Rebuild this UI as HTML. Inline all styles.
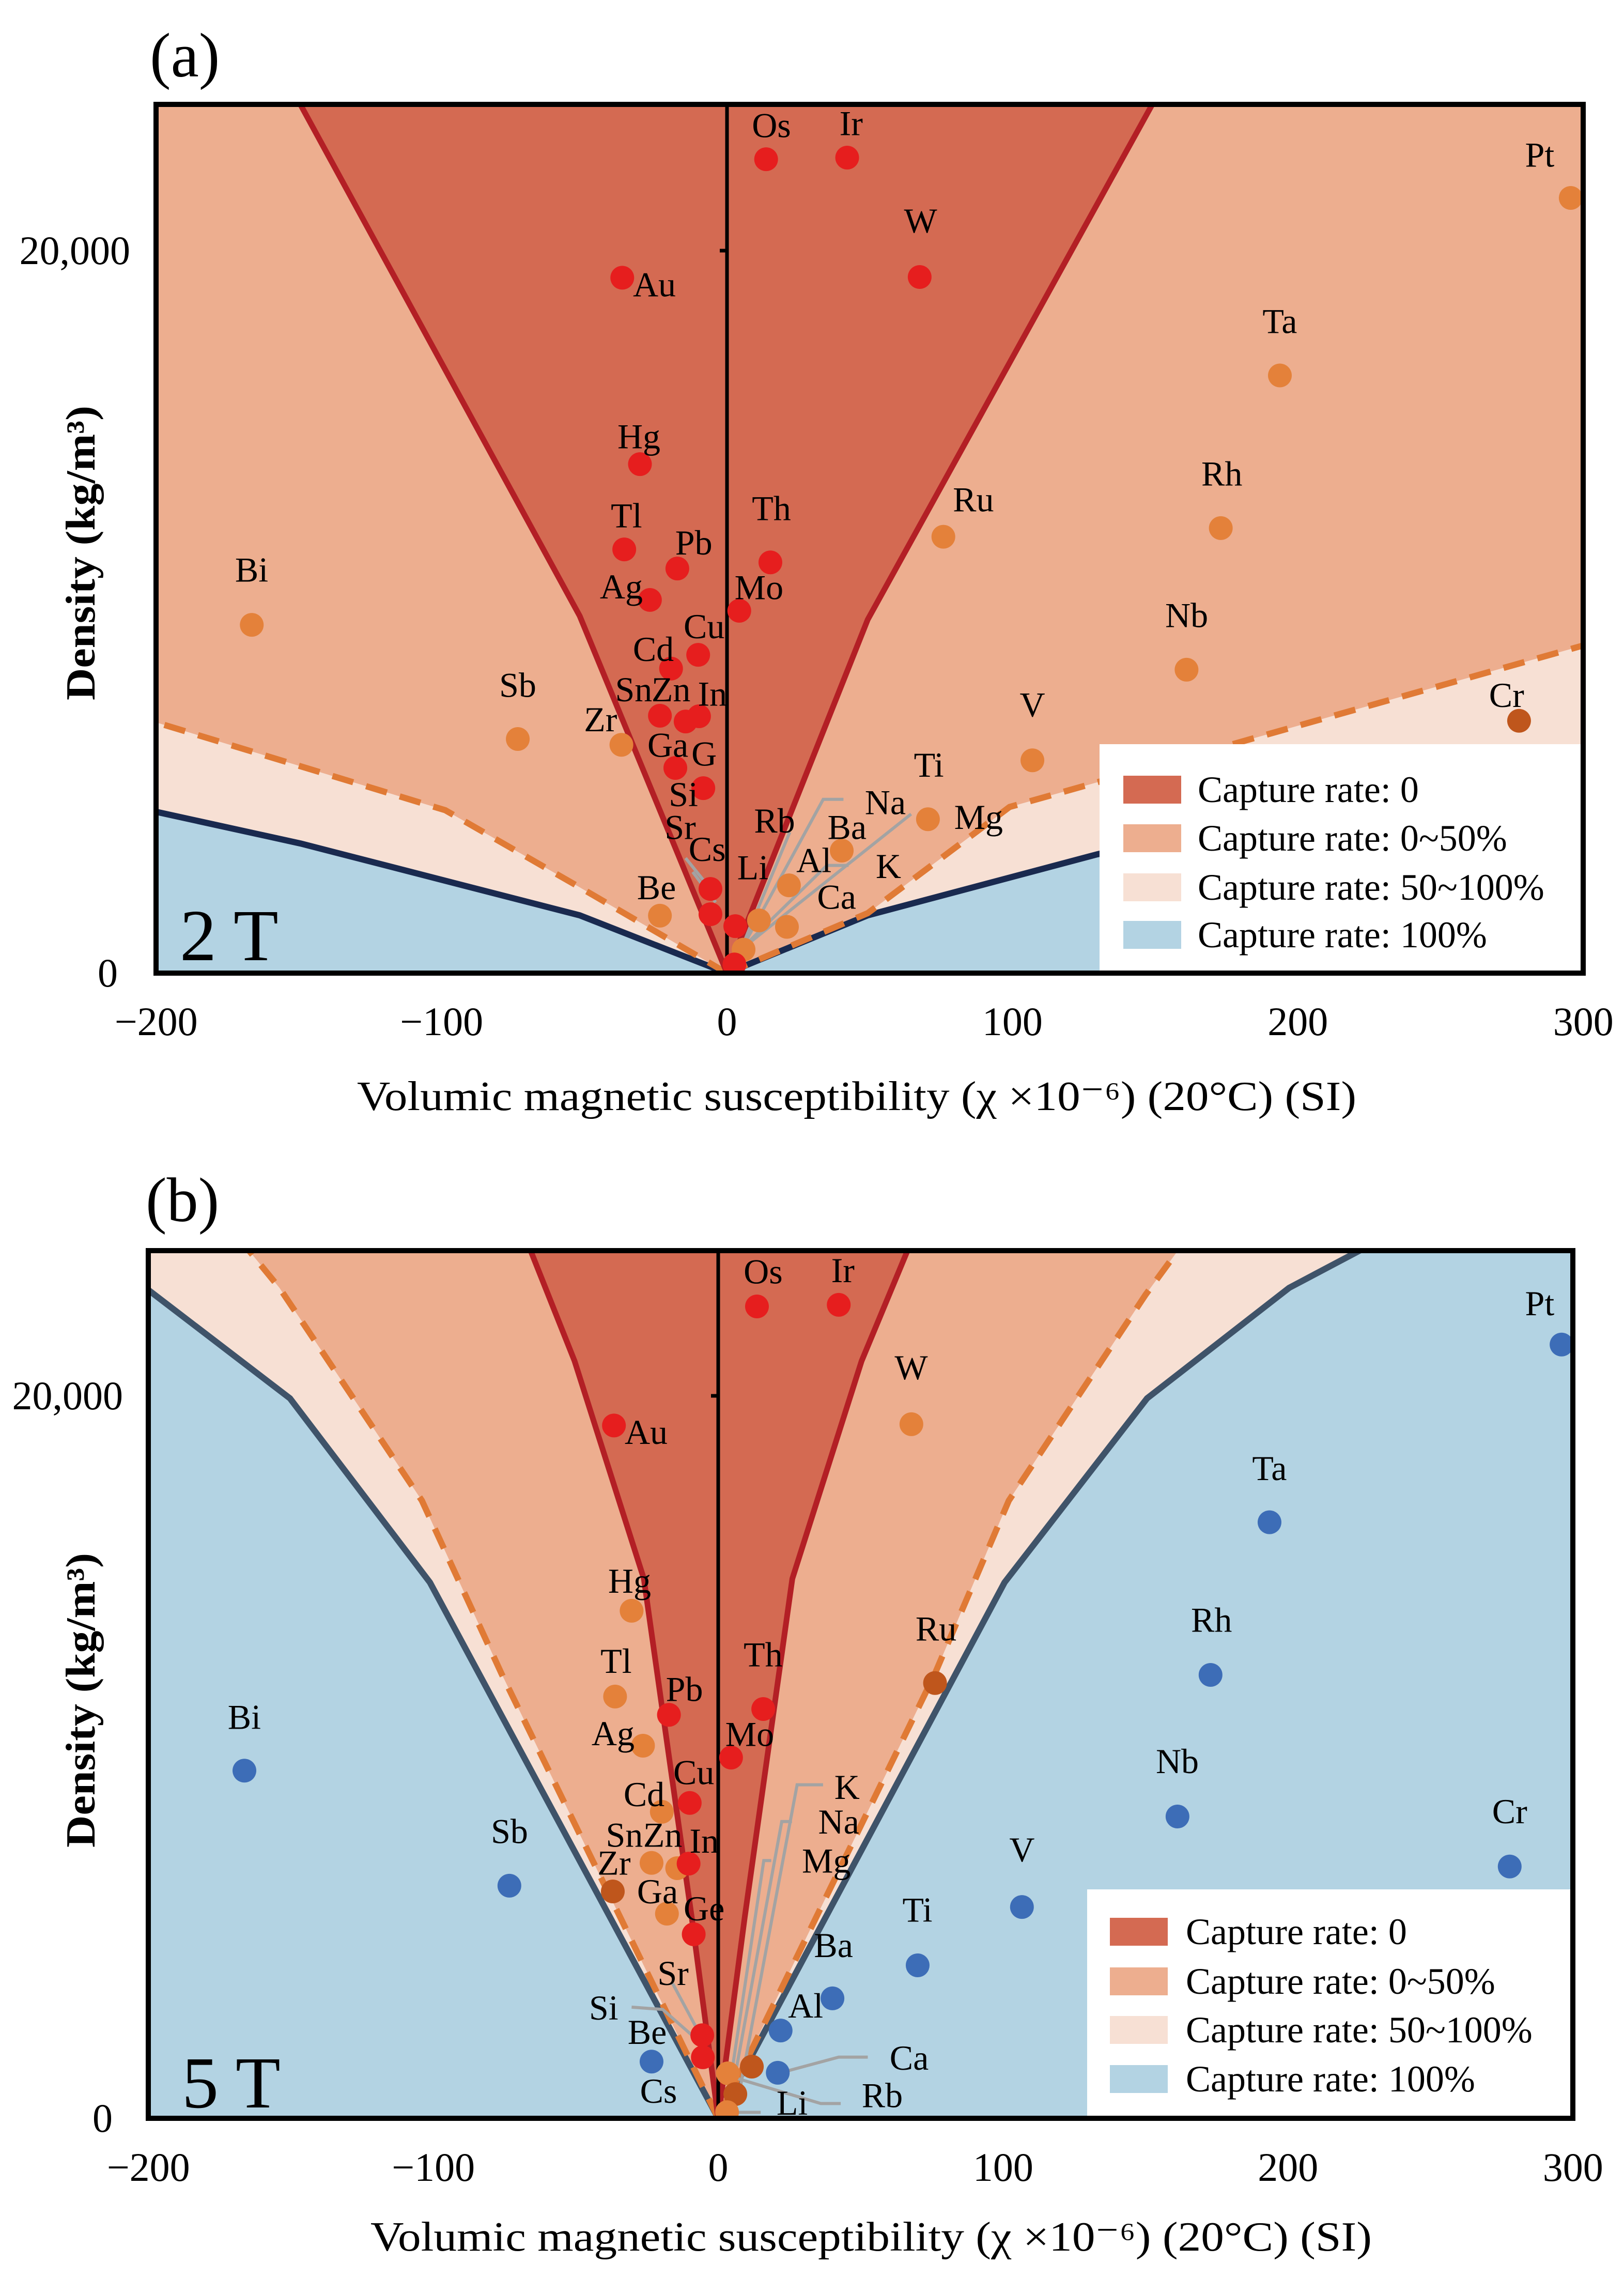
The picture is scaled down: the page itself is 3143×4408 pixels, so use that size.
<!DOCTYPE html>
<html><head><meta charset="utf-8"><style>
html,body{margin:0;padding:0;background:#fff;}
svg{display:block;}
text{font-family:"Liberation Serif","Times New Roman",Times,"DejaVu Serif",serif;fill:#000;}
</style></head><body>
<svg id="fig" width="3143" height="4408" viewBox="0 0 3143 4408" xmlns="http://www.w3.org/2000/svg"></svg>
<script>
// ---------- shared axis data ----------
const xTicks = [-200, -100, 0, 100, 200, 300];
const xTickLabels = ["\u2212200", "\u2212100", "0", "100", "200", "300"];
const yTicks = [0, 20000];
const yTickLabels = ["0", "20,000"];
const legendLabels = ["Capture rate: 0", "Capture rate: 0~50%", "Capture rate: 50~100%", "Capture rate: 100%"];

// ---------- panel (a) 2 T data ----------
const namesA = ["Os","Ir","Pt","W","Au","Ta","Hg","Rh","Ru","Tl","Th","Pb","Ag","Mo","Bi","Cu","Cd","Nb","Sn","Zn","In","Cr","Sb","Zr","V","Ga","Ge","Ti","Ba","Al","Ca","Be","Sr","Si","Na","Rb","Li","K"];
const chiA = [13.7,42.1,295.6,67.5,-36.7,193.7,-30.5,173,75.8,-36,15.2,-17.4,-27,4.3,-166.5,-10.1,-19.6,161,-23.5,-14.5,-9.8,277.5,-73.3,-37,107,-18.1,-8.3,70.4,40.2,21.7,21,-23.5,-5.8,-5.8,11.2,2.9,5.8,2.6];
const rhoA = [22530,22575,21460,19270,19250,16545,14090,12320,12080,11730,11370,11200,10330,10030,9640,8810,8430,8400,7125,6965,7110,6985,6480,6320,5890,5680,5120,4260,3390,2430,1280,1590,2330,1630,1460,1300,650,240];
const classA = ["r","r","o","r","r","o","r","o","o","r","r","r","r","r","o","r","r","o","r","r","r","d","o","o","o","r","r","o","o","o","o","o","r","r","o","r","o","r"];
const redLeftA = [[0,0],[-51.6,9885],[-149.5,24050]];
const redRightA = [[0,0],[49.3,9785],[149,24050]];
const dashLeftA = [[0,0],[-51.6,2375],[-98.7,4510],[-200,6940]];
const dashRightA = [[0,0],[49.3,1660],[99,4600],[300,9070]];
const navyLeftA = [[0,0],[-51.6,1600],[-149.5,3590],[-200,4465]];
const navyRightA = [[0,0],[49.3,1600],[129.8,3290],[200,4465],[300,6200]];
const labTextA = ["Os","Ir","Pt","W","Au","Ta","Hg","Rh","Ru","Tl","Th","Pb","Ag","Mo","Bi","Cu","Cd","Nb","Sn","Zn","In","Cr","Sb","Zr","V","Ga","G","Ti","Si","Sr","Rb","Na","Mg","Ba","Cs","Li","Al","K","Ca","Be"];
const labPosA = [[745,171],[822,168],[1487,211],[889,301],[632,388],[1236,438],[617,595],[1180,646],[940,681],[605,703],[745,693],[670,740],[600,800],[733,801],[243,777],[680,854],[631,885],[1146,839],[612,940],[648,940],[688,946],[1455,948],[500,934],[580,981],[997,961],[645,1016],[680,1028],[897,1043],[660,1083],[657,1128],[748,1119],[855,1094],[945,1114],[818,1128],[683,1158],[727,1183],[786,1173],[858,1181],[808,1223],[634,1210]];
const leadersA = [
  [[40.8,4810],[33.7,4810],[5.7,750]],
  [[64.5,4403],[6.4,747]],
  [[42.6,2982],[35,2982],[8,900]],
  [[-14.5,3185],[-5.8,2330]],
  [[-12,2800],[-4,1960]],
  [[22,3900],[3,300]]
];

// ---------- panel (b) 5 T data ----------
const namesB = ["Os","Ir","Pt","W","Au","Ta","Hg","Rh","Ru","Tl","Th","Pb","Ag","Mo","Bi","Cu","Cd","Nb","Sn","Zn","In","Cr","Sb","Zr","V","Ga","Ge","Ti","Ba","Al","Be","Ca","Sr","Si","K","Na","Rb","Li"];
const chiB = [13.6,42.3,296,67.8,-36.6,193.5,-30.4,172.8,76.1,-36.2,15.8,-17.3,-26.4,4.5,-166.3,-10,-19.8,161.2,-23.4,-14.4,-10.4,277.8,-73.3,-37,106.6,-18,-8.6,70,40.1,21.9,-23.4,20.9,-5.6,-5.4,11.8,3.4,6,3.1];
const rhoB = [22475,22520,21420,19215,19180,16500,14050,12275,12050,11675,11330,11170,10315,9985,9625,8730,8485,8355,7070,6925,7050,6970,6440,6280,5850,5665,5095,4235,3320,2430,1570,1260,2300,1690,1430,1245,670,170];
const classB = ["r","r","b","o","r","b","o","b","d","o","r","r","o","r","b","r","o","b","o","o","r","b","b","d","b","o","r","b","b","b","b","b","r","r","d","o","d","o"];
const redLeftB = [[0,0],[-9.3,5565],[-26.1,14935],[-50.4,20960],[-66,24050]];
const redRightB = [[0,0],[9.3,5565],[26,14935],[50.3,20960],[66.6,24050]];
const dashLeftB = [[0,0],[-76,12300],[-104,17100],[-154,22990],[-165,24050]];
const dashRightB = [[0,0],[76,12300],[102,17100],[150,22800],[161.6,24050]];
const navyLeftB = [[0,0],[-101.2,14835],[-150.3,19930],[-200,22930]];
const navyRightB = [[0,0],[100.5,14835],[150.5,19930],[200.4,22990],[225.8,24050]];
const labTextB = ["Os","Ir","Pt","W","Au","Ta","Hg","Rh","Ru","Tl","Th","Pb","Ag","Mo","Bi","Cu","Cd","Nb","Sn","Zn","In","Cr","Sb","Zr","V","Ga","Ge","Ti","K","Na","Mg","Ba","Sr","Al","Si","Be","Ca","Cs","Rb","Li"];
const labPosB = [[737,183],[814,181],[1487,226],[880,313],[624,401],[1226,450],[608,603],[1170,656],[904,668],[595,712],[737,703],[661,750],[592,810],[724,811],[236,788],[670,863],[622,893],[1137,848],[603,948],[640,948],[680,956],[1458,916],[492,943],[593,986],[987,968],[635,1025],[680,1048],[886,1050],[818,883],[810,930],[798,983],[805,1098],[650,1136],[778,1180],[583,1183],[625,1216],[878,1251],[636,1296],[852,1302],[765,1312]];
const leadersB = [
  [[36.8,9233],[27.7,9233],[7.8,878]],
  [[25.9,8215],[22.3,8215],[5.2,878]],
  [[18.6,7135],[16,7135],[4,878]],
  [[52.5,1694],[42.3,1694],[21.2,1246]],
  [[43,409],[36,409],[3.3,1183]],
  [[14.9,165],[4,165]],
  [[-30.4,3077],[-19.5,3015],[-4.9,1999]],
  [[-16,3731],[-4.9,2100]]
];

const COLORS = {r:"#E61E1E", o:"#E4813A", d:"#BF561C", b:"#3D6DB7"};
const FILL_RED="#D46A52", FILL_OR="#EDAE8F", FILL_PK="#F7E0D4", FILL_BL="#B3D3E3";
const svg = document.getElementById("fig");
const NS = "http://www.w3.org/2000/svg";
function mk(tag, attrs, parent){
  const e = document.createElementNS(NS, tag);
  for (const k in attrs) e.setAttribute(k, attrs[k]);
  (parent||svg).appendChild(e);
  return e;
}

function drawPanel(P){
  const g = mk("g", {});
  
  
  const sx = v => P.x0 + v * P.kx;
  const sy = v => P.yb - v * P.ky;
  const YTOP = (P.yb - P.top) / P.ky;
  const pts = arr => arr.map(p => sx(p[0]).toFixed(1) + "," + sy(p[1]).toFixed(1)).join(" ");
  const cp = mk("clipPath", {id: P.id + "-clip"}, g);
  mk("rect", {x:P.left, y:P.top, width:P.right-P.left, height:P.yb-P.top}, cp);
  const pg = mk("g", {"clip-path":"url(#" + P.id + "-clip)"}, g);
  
  
  const L = -200, R = 300;
  const rev = a => a.slice().reverse();
  if (P.mode === "a"){
    const bg = mk("rect", {x:P.left, y:P.top, width:P.right-P.left, height:P.yb-P.top, fill:FILL_OR}, pg);
    
    
    const pk = mk("polygon", {points: pts([[L,0]].concat(rev(P.dashL), P.dashR, [[R,0]])), fill:FILL_PK}, pg);
    
    
    const bl = mk("polygon", {points: pts([[L,0]].concat(rev(P.navyL), P.navyR, [[R,0]])), fill:FILL_BL}, pg);
    
    
  } else {
    const bg = mk("rect", {x:P.left, y:P.top, width:P.right-P.left, height:P.yb-P.top, fill:FILL_BL}, pg);
    
    
    const pk = mk("polygon", {points: pts([[L,YTOP+500]].concat(rev(P.navyL), P.navyR, [[R,YTOP+500]])), fill:FILL_PK}, pg);
    
    
    const or = mk("polygon", {points: pts(rev(P.dashL).concat(P.dashR)), fill:FILL_OR}, pg);
    
    
  }
  const rd = mk("polygon", {points: pts(rev(P.redL).concat(P.redR)), fill:FILL_RED}, pg);
  
  
  [P.navyL, P.navyR].forEach(a => {
    const l = mk("polyline", {points: pts(a), fill:"none", stroke:P.navyColor, "stroke-width":12, "stroke-linejoin":"round"}, pg);
    
    
  });
  [P.dashL, P.dashR].forEach(a => {
    const l = mk("polyline", {points: pts(a), fill:"none", stroke:"#E07A35", "stroke-width":12, "stroke-dasharray":"42 26"}, pg);
    
    
  });
  [P.redL, P.redR].forEach(a => {
    const l = mk("polyline", {points: pts(a), fill:"none", stroke:"#B31F25", "stroke-width":11, "stroke-linejoin":"round"}, pg);
    
    
  });
  const za = mk("line", {x1:sx(0), y1:P.top, x2:sx(0), y2:P.yb, stroke:"#000", "stroke-width":7}, pg);
  
  
  const tk = mk("line", {x1:sx(0)-14, y1:sy(20000), x2:sx(0), y2:sy(20000), stroke:"#000", "stroke-width":7}, pg);
  
  
  P.leaders.forEach(a => {
    const l = mk("polyline", {points: pts(a), fill:"none", stroke:"#A3A3A3", "stroke-width":6}, pg);
    
    
  });
  P.names.forEach((n, i) => {
    const c = mk("circle", {cx:sx(P.chi[i]), cy:sy(P.rho[i]), r:23, fill:COLORS[P.cls[i]]}, pg);
    
    
  });
  P.labT.forEach((t, i) => {
    const p = P.labP[i];
    const e = mk("text", {x:(p[0]*P.zx).toFixed(1), y:(P.zy0 + p[1]*P.zy).toFixed(1), "font-size":68, "text-anchor":"middle", "dominant-baseline":"central"}, pg);
    e.textContent = t;
    
    
  });
  const lg = mk("g", {}, g);
  
  
  const lb = mk("rect", {x:P.leg.x, y:P.leg.y, width:P.right-P.leg.x, height:P.yb-P.leg.y, fill:"#fff"}, lg);
  
  
  const sw = [FILL_RED, FILL_OR, FILL_PK, FILL_BL];
  legendLabels.forEach((t, i) => {
    const cy = P.leg.cy[i];
    const r = mk("rect", {x:P.leg.sx, y:cy-27, width:112, height:54, fill:sw[i]}, lg);
    
    
    const e = mk("text", {x:P.leg.tx, y:cy+24, "font-size":72}, lg);
    e.textContent = t;
    
    
  });
  const fr = mk("rect", {x:P.left, y:P.top, width:P.right-P.left, height:P.yb-P.top, fill:"none", stroke:"#000", "stroke-width":10}, g);
  
  
  xTicks.forEach((v, i) => {
    const e = mk("text", {x:sx(v), y:P.xtY, "font-size":78, "text-anchor":"middle"}, g);
    e.textContent = xTickLabels[i];
    
    
  });
  yTicks.forEach((v, i) => {
    const e = mk("text", {x:(v===0?P.y0x:P.ytx), y:sy(v)+(v===0?26:26), "font-size":78, "text-anchor":"end"}, g);
    e.textContent = yTickLabels[i];
    
    
  });
  const xt = mk("text", {x:P.xtitle[0], y:P.xtitle[1], "font-size":80, "text-anchor":"middle", textLength:P.xtitle[2], lengthAdjust:"spacingAndGlyphs"}, g);
  xt.textContent = "Volumic magnetic susceptibility (\u03C7 \u00D710\u207B\u2076) (20\u00B0C) (SI)";
  
  
  const yt = mk("text", {x:0, y:0, "font-size":80, "font-weight":"bold", "text-anchor":"middle", textLength:570, lengthAdjust:"spacingAndGlyphs", transform:"translate(" + (P.ytitle[0]+28) + "," + P.ytitle[1] + ") rotate(-90)"}, g);
  yt.textContent = "Density (kg/m\u00B3)";
  
  
  const pl = mk("text", {x:P.plab[0], y:P.plab[1], "font-size":122}, g);
  pl.textContent = P.plabT;
  
  
  const fl = mk("text", {x:P.field[0], y:P.field[1], "font-size":142}, g);
  fl.textContent = P.fieldT;
  
  
}

drawPanel({id:"panel-a-2t", mode:"a", left:302, right:3064, top:202, yb:1883, x0:1407, kx:5.524, ky:0.0699,
  names:namesA, chi:chiA, rho:rhoA, cls:classA,
  redL:redLeftA, redR:redRightA, dashL:dashLeftA, dashR:dashRightA, navyL:navyLeftA, navyR:navyRightA,
  navyColor:"#1A2A4F", leaders:leadersA, labT:labTextA, labP:labPosA, zx:2.004, zy:1.419, zy0:0,
  leg:{x:2128, y:1440, sx:2174, tx:2318, cy:[1528,1622,1717,1809]},
  xtY:2003, ytx:252, y0x:228, xtitle:[1658,2148,1934], ytitle:[155,1070],
  plab:[290,148], plabT:"(a)", field:[348,1858], fieldT:"2 T"});

drawPanel({id:"panel-b-5t", mode:"b", left:287, right:3044, top:2420, yb:4099, x0:1390, kx:5.514, ky:0.0699,
  names:namesB, chi:chiB, rho:rhoB, cls:classB,
  redL:redLeftB, redR:redRightB, dashL:dashLeftB, dashR:dashRightB, navyL:navyLeftB, navyR:navyRightB,
  navyColor:"#3F5369", leaders:leadersB, labT:labTextB, labP:labPosB, zx:2.004, zy:1.4245, zy0:2200,
  leg:{x:2104, y:3656, sx:2148, tx:2295, cy:[3738,3834,3928,4023]},
  xtY:4220, ytx:238, y0x:218, xtitle:[1686,4355,1938], ytitle:[155,3290],
  plab:[282,2363], plabT:"(b)", field:[352,4078], fieldT:"5 T"});
</script>
</body></html>
